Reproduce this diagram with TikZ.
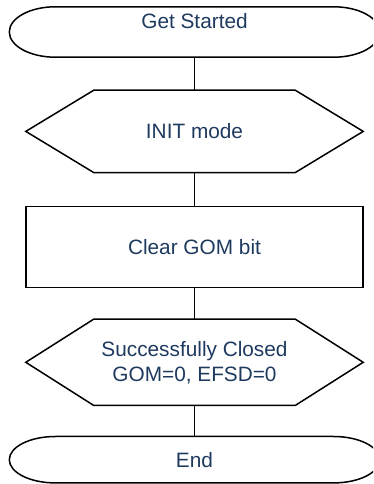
\documentclass[tikz,border=0pt]{standalone}
\usepackage{fontspec}
\setmainfont{Liberation Sans}
\usetikzlibrary{positioning,calc}
\definecolor{navy}{HTML}{1F3A5F}
\tikzset{
  box/.style={rectangle,minimum width=337pt,align=center,inner sep=3pt,
    text=navy,font=\fontsize{20.8}{25}\selectfont},
  rectbox/.style={box,draw=black,line width=1.5pt,minimum height=81pt},
  hexbox/.style={box,minimum height=#1},
  termbox/.style={box,minimum width=370pt,minimum height=#1},
  border/.style={draw=black,line width=1.5pt,line join=miter},
  link/.style={draw=black,line width=0.8pt},
}
% outline of a hexagon round a node
\newcommand{\hexline}[1]{%
  \draw[border] (#1.west) -- ($(#1.north west)+(68pt,0)$) -- ($(#1.north east)+(-68pt,0)$)
    -- (#1.east) -- ($(#1.south east)+(-68pt,0)$) -- ($(#1.south west)+(68pt,0)$) -- cycle;}
% outline of a terminator with elliptic ends
\newcommand{\termline}[1]{%
  \draw[border] let \p1=($(#1.north)-(#1.center)$) in
    ($(#1.north west)+(46pt,0)$) -- ($(#1.north east)+(-46pt,0)$)
    arc[start angle=90,end angle=-90,x radius=46pt,y radius=\y1]
    -- ($(#1.south west)+(46pt,0)$)
    arc[start angle=270,end angle=90,x radius=46pt,y radius=\y1] -- cycle;}
\begin{document}
\begin{tikzpicture}[x=1pt,y=1pt,node distance=32pt]
  \useasboundingbox (0,0) rectangle (373,484);
  \clip (0,0) rectangle (373,484);
  \node[termbox=50pt,text depth=23pt] (start) at (194.5,452) {Get Started};
  \node[hexbox=82pt,below=33pt of start] (init) {INIT mode};
  \node[rectbox,below=33pt of init] (clear) {Clear GOM bit};
  \node[hexbox=86pt,below=31pt of clear] (closed) {Successfully Closed\\GOM=0, EFSD=0};
  \node[termbox=46pt,below=31pt of closed] (finish) {End};
  % outlines
  \termline{start}
  \hexline{init}
  \hexline{closed}
  \termline{finish}
  % links
  \draw[link] (start) -- (init);
  \draw[link] (init) -- (clear);
  \draw[link] (clear) -- (closed);
  \draw[link] (closed) -- (finish);
\end{tikzpicture}
\end{document}
